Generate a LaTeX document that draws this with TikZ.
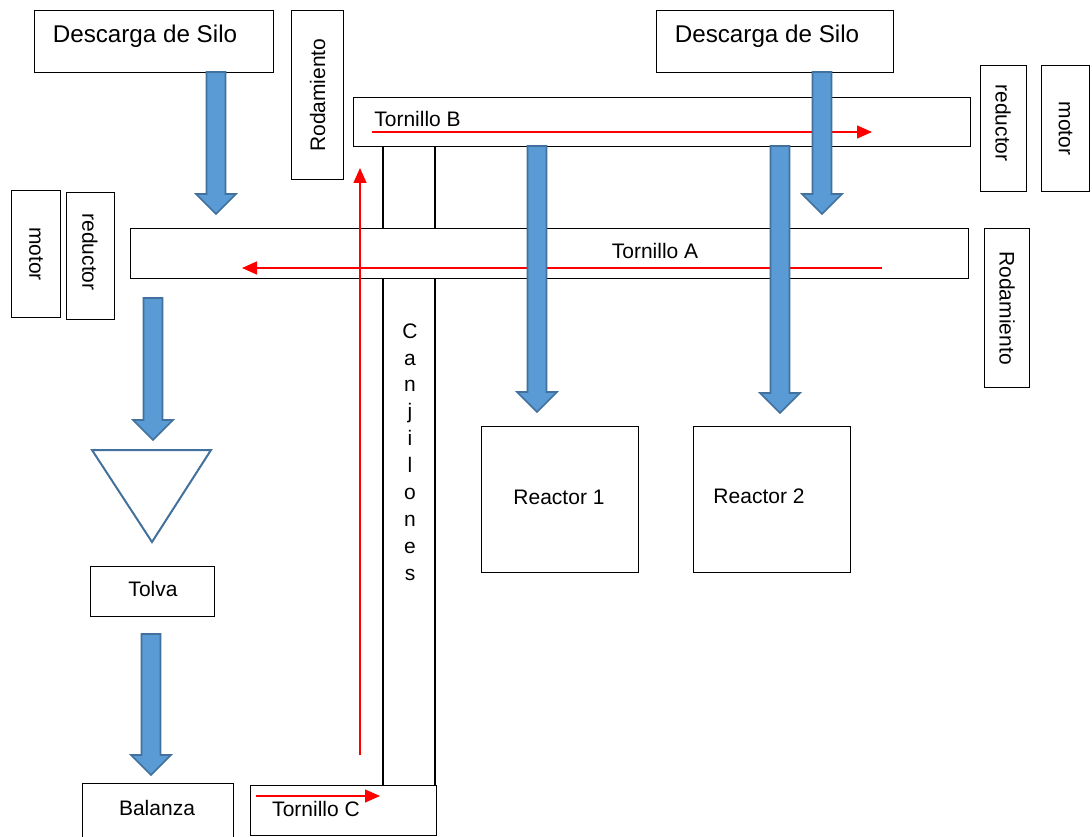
\documentclass[tikz,border=0pt]{standalone}
\usepackage{fontspec}
\setmainfont{Liberation Sans}
\usetikzlibrary{arrows.meta}
\definecolor{bfill}{HTML}{5B9BD5}
\definecolor{bline}{HTML}{41719C}
\definecolor{redarr}{HTML}{FF0000}
\tikzset{
  box/.style={draw=black, line width=1.2pt, inner sep=0pt, anchor=north west, fill=white},
  txt/.style={inner sep=0pt, font=\fontsize{21}{25}\selectfont},
  bigtxt/.style={inner sep=0pt, font=\fontsize{24.2}{29}\selectfont},
  blk/.style={fill=bfill, draw=bline, line width=1.6pt, line join=miter},
  redline/.style={draw=redarr, line width=1.3pt, -{Triangle[length=15pt,width=13pt]}},
  col/.style={draw=black, line width=1.2pt},
  hopper/.style={draw=bline, line width=2pt, fill=white}
}
\newcommand\bluedown[3]{\filldraw[blk] ({#1-9.5},#2) -- ({#1+9.5},#2) -- ({#1+9.5},{#3-20}) -- ({#1+20},{#3-20}) -- (#1,#3) -- ({#1-20},{#3-20}) -- ({#1-9.5},{#3-20}) -- cycle;}
\begin{document}
\begin{tikzpicture}[x=1pt,y=-1pt]
\clip (0,0) rectangle (1092,837);
\fill[white] (0,0) rectangle (1092,837);

% top left
\node[box, minimum width=239pt, minimum height=62pt] (silo1) at (34,10) {};
\node[bigtxt] (silo1t) at (145,36) {Descarga de Silo};
\node[box, minimum width=52pt, minimum height=169pt] (rod1) at (291,10) {};
\node[txt, rotate=90] (rod1t) at (rod1.center) {Rodamiento};

% top right
\node[box, minimum width=237pt, minimum height=62pt] (silo2) at (656,10) {};
\node[bigtxt] (silo2t) at (767,36) {Descarga de Silo};

% Tornillo B
\node[box, minimum width=617pt, minimum height=49pt] (tB) at (353,97) {};
\node[txt] (tBt) at (417.5,119) {Tornillo B};
\node[box, minimum width=46pt, minimum height=126pt] (redR) at (980,65) {};
\node[txt, rotate=-90] (redRt) at (1003,123) {reductor};
\node[box, minimum width=48pt, minimum height=126pt] (motR) at (1041,65) {};
\node[txt, rotate=-90] (motRt) at (motR.center) {motor};

% Tornillo A
\node[box, minimum width=838pt, minimum height=50pt] (tA) at (130,228) {};
\node[txt] (tAt) at (655,251) {Tornillo A};
\node[box, minimum width=49pt, minimum height=127pt] (motL) at (11,190) {};
\node[txt, rotate=-90] (motLt) at (motL.center) {motor};
\node[box, minimum width=48pt, minimum height=127pt] (redL) at (66,192) {};
\node[txt, rotate=-90] (redLt) at (90,252) {reductor};
\node[box, minimum width=45pt, minimum height=159pt] (rod2) at (984,228) {};
\node[txt, rotate=-90] (rod2t) at (rod2.center) {Rodamiento};

% Canjilones
\coordinate (cjL) at (383,0);
\coordinate (cjR) at (435,0);
\node[box, minimum width=186pt, minimum height=50pt] (tC) at (250,785) {};
\draw[col] (tB.south -| cjL) -- (tA.north -| cjL);
\draw[col] (tB.south -| cjR) -- (tA.north -| cjR);
\draw[col] (tA.south -| cjL) -- (tC.north -| cjL);
\draw[col] (tA.south -| cjR) -- (tC.north -| cjR);
\node[align=center, inner sep=0pt, font=\fontsize{21}{26.9}\selectfont] (cjt) at (410,452) {C\\a\\n\\j\\i\\l\\o\\n\\e\\s};
\node[txt] (tCt) at (316,809) {Tornillo C};

% Reactors
\node[box, minimum width=157pt, minimum height=146pt] (R1) at (481,426) {};
\node[txt] (R1t) at (559,497) {Reactor 1};
\node[box, minimum width=157pt, minimum height=146pt] (R2) at (693,426) {};
\node[txt] (R2t) at (759,496) {Reactor 2};

% Tolva, Balanza
\draw[hopper] (92,450) -- (211,450) -- (152,542) -- cycle;
\node[box, minimum width=124pt, minimum height=50pt] (tolva) at (90,566) {};
\node[txt] (tolvat) at (153,589) {Tolva};
\node[box, minimum width=151pt, minimum height=70pt] (bal) at (82,783) {};
\node[txt] (balt) at (157,808) {Balanza};

% red arrows
\coordinate (rB1) at (372,132); \coordinate (rB2) at (872,132);
\coordinate (rA1) at (882,268); \coordinate (rA2) at (242,268);
\coordinate (rV1) at (360,755); \coordinate (rV2) at (360,168);
\coordinate (rC1) at (256,796); \coordinate (rC2) at (380,796);
\draw[redline] (rB1) -- (rB2);
\draw[redline] (rA1) -- (rA2);
\draw[redline] (rV1) -- (rV2);
\draw[redline] (rC1) -- (rC2);

% blue arrows
\bluedown{216}{72}{214}
\bluedown{822}{72}{214}
\bluedown{537}{146}{412}
\bluedown{780}{146}{413}
\bluedown{153}{298}{440}
\bluedown{151}{634}{775}
\end{tikzpicture}
\end{document}
